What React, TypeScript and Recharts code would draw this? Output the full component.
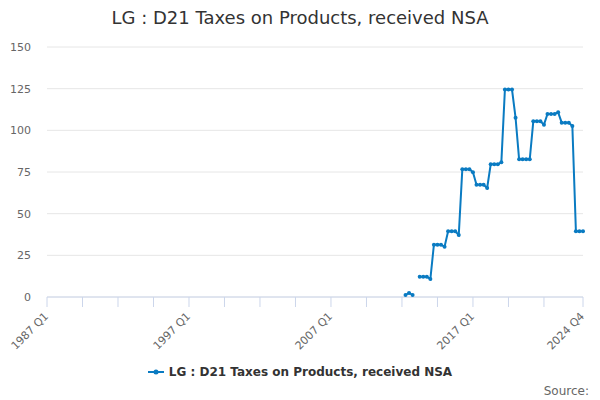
import React from "react";
import { LineChart, Line, XAxis, YAxis, CartesianGrid } from "recharts";

// Quarter labels 1987 Q1 .. 2024 Q4 (152 quarters)
const years: number[] = [];
for (let y = 1987; y <= 2024; y++) years.push(y);
const quarters: string[] = [];
years.forEach((y) => ["Q1", "Q2", "Q3", "Q4"].forEach((q) => quarters.push(`${y} ${q}`)));

// Values, starting 2012 Q2 (null = no value)
const firstQuarter = "2012 Q2";
const values: (number | null)[] = [
  1.2, 2.4, 1.2, null,
  12.2, 12.2, 12.2, 10.8,
  31.4, 31.4, 31.4, 30.2,
  39.4, 39.4, 39.4, 37.2,
  76.6, 76.6, 76.6, 74.8,
  67.4, 67.4, 67.4, 65.4,
  79.6, 79.6, 79.6, 80.8,
  124.5, 124.5, 124.5, 107.6,
  82.6, 82.6, 82.6, 82.6,
  105.4, 105.4, 105.4, 103.4,
  109.8, 109.8, 109.8, 110.8,
  104.6, 104.6, 104.6, 102.6,
  39.4, 39.4, 39.4,
];

const xTicks = [0, 10, 20, 30, 40, 50, 60, 70, 80, 90, 100, 110, 120, 130, 140, 151];
const xLabelTicks = ["1987 Q1", "1997 Q1", "2007 Q1", "2017 Q1", "2024 Q4"];
const yTicks = [0, 25, 50, 75, 100, 125, 150];

const title = "LG : D21 Taxes on Products, received NSA";
const seriesName = "LG : D21 Taxes on Products, received NSA";

const startIdx = quarters.indexOf(firstQuarter);
const data = quarters.map((q, i) => ({
  i,
  q,
  v: i >= startIdx && i - startIdx < values.length ? values[i - startIdx] : null,
}));

const COLOR = "#0a7bc2";
const FONT = "'DejaVu Sans', sans-serif";

const XTick = (props: any) => {
  const { x, y, payload } = props;
  const label = quarters[payload.value];
  if (!xLabelTicks.includes(label)) return null;
  const tx = x + 2;
  const ty = y + 8;
  return (
    <text
      x={tx}
      y={ty}
      transform={`rotate(-45, ${tx}, ${ty})`}
      textAnchor="end"
      fontSize={11}
      fill="#666666"
      fontFamily={FONT}
    >
      {label}
    </text>
  );
};

export default function App() {
  return (
    <div style={{ position: "absolute", left: 0, top: 0, width: 600, height: 400, fontFamily: FONT }}>
      <div
        style={{
          position: "absolute",
          left: 0,
          top: 7,
          width: 600,
          textAlign: "center",
          fontSize: 18,
          color: "#333333",
          lineHeight: "22px",
        }}
      >
        {title}
      </div>
      <LineChart width={600} height={400} data={data} margin={{ top: 47, right: 17, bottom: 0, left: 0 }}>
        <CartesianGrid vertical={false} stroke="#e6e6e6" />
        <XAxis
          dataKey="i"
          type="number"
          domain={[0, 151]}
          ticks={xTicks}
          interval={0}
          tick={<XTick />}
          tickSize={10}
          axisLine={{ stroke: "#ccd6eb" }}
          tickLine={{ stroke: "#ccd6eb" }}
          height={103}
        />
        <YAxis
          domain={[0, 150]}
          ticks={yTicks}
          width={47}
          axisLine={false}
          tickLine={false}
          tickSize={0}
          tickMargin={16}
          tick={{ fontSize: 11, fill: "#666666", fontFamily: FONT }}
        />
        <Line
          dataKey="v"
          stroke={COLOR}
          strokeWidth={2}
          dot={{ r: 2, fill: COLOR, stroke: COLOR, strokeWidth: 0 }}
          isAnimationActive={false}
          connectNulls={false}
        />
      </LineChart>
      <div
        style={{
          position: "absolute",
          left: 0,
          top: 365,
          width: 600,
          display: "flex",
          justifyContent: "center",
          alignItems: "center",
          fontSize: 12,
          fontWeight: "bold",
          color: "#333333",
        }}
      >
        <svg width={16} height={10} style={{ marginRight: 5 }}>
          <line x1={0} y1={5} x2={16} y2={5} stroke={COLOR} strokeWidth={2} />
          <circle cx={8} cy={5} r={2.5} fill={COLOR} />
        </svg>
        <span>{seriesName}</span>
      </div>
      <div
        style={{
          position: "absolute",
          right: 11,
          top: 384,
          fontSize: 12,
          color: "#666666",
        }}
      >
        Source:
      </div>
    </div>
  );
}
